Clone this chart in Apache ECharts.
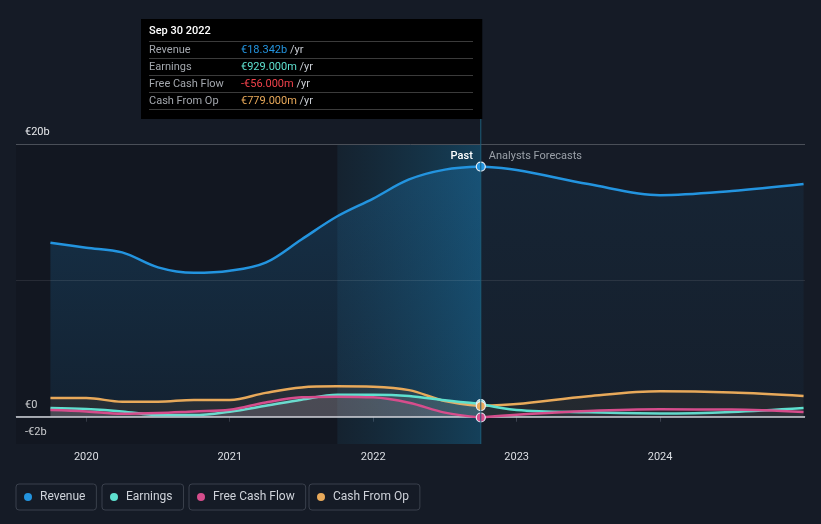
<!DOCTYPE html>
<html>
<head>
<meta charset="utf-8">
<script src="https://cdn.jsdelivr.net/npm/echarts@6/dist/echarts.min.js"></script>
<style>
html,body{margin:0;padding:0;background:#151b26;}
#c{width:821px;height:524px;}
</style>
</head>
<body>
<div id="c"></div>
<script>
// ---- data (values in € billions) ----
const pastYears = [2019.75, 2020, 2020.25, 2020.5, 2020.75, 2021, 2021.25, 2021.5, 2021.75, 2022, 2022.25, 2022.5, 2022.75];
const revenuePast = [12.75, 12.4, 12.05, 10.95, 10.55, 10.7, 11.3, 13.0, 14.7, 16.0, 17.4, 18.12, 18.342];
const earningsPast = [0.64, 0.56, 0.39, 0.12, 0.12, 0.37, 0.8, 1.25, 1.62, 1.62, 1.52, 1.2, 0.929];
const fcfPast = [0.49, 0.39, 0.22, 0.27, 0.39, 0.51, 1.05, 1.42, 1.47, 1.42, 1.02, 0.3, -0.056];
const cfoPast = [1.37, 1.37, 1.1, 1.1, 1.23, 1.23, 1.75, 2.15, 2.23, 2.2, 1.95, 1.15, 0.779];

const fcstYears = [2022.75, 2023, 2023.5, 2024, 2024.5, 2025];
const revenueFcst = [18.342, 18.09, 17.06, 16.25, 16.55, 17.06];
const earningsFcst = [0.929, 0.49, 0.32, 0.24, 0.35, 0.64];
const fcfFcst = [-0.056, 0.15, 0.42, 0.54, 0.53, 0.35];
const cfoFcst = [0.779, 0.93, 1.5, 1.86, 1.77, 1.52];

const xTicks = [2020, 2021, 2022, 2023, 2024];
const yTicks = [-2, 0, 20];
const tipDate = 'Sep 30 2022';
const highlightStart = 2021.75;

const C = {rev:'#2394df', earn:'#5ee0cf', fcf:'#d64d8c', cfo:'#e8a95a'};
const F = 'Roboto, "Noto Sans", sans-serif';

function zipXY(xs, ys){ return xs.map((x,i)=>[x, ys[i]]); }
function fmtMoney(v){
  const s = v < 0 ? '-' : '';
  const a = Math.abs(v);
  if (a >= 1) return s + '€' + a.toFixed(3) + 'b';
  return s + '€' + (a*1000).toFixed(3) + 'm';
}
function withMarker(xs, ys, color){
  const d = zipXY(xs, ys);
  const last = d.length - 1;
  d[last] = {value: d[last], symbol:'circle', symbolSize:9,
    itemStyle:{color: color, borderColor:'#e8eef5', borderWidth:1.2}};
  return d;
}
function vgrad(c1, c2){
  return new echarts.graphic.LinearGradient(0,0,0,1,[{offset:0,color:c1},{offset:1,color:c2}]);
}

const chart = echarts.init(document.getElementById('c'), null, {renderer:'canvas'});

function lineSeries(name, data, color, area, z){
  return {
    name: name, type:'line', data: data, smooth:0.35,
    symbol:'none', showSymbol:true, z: z,
    lineStyle:{color: color, width:2.5},
    itemStyle:{color: color},
    areaStyle: area,
    emphasis:{disabled:true}, silent:true, animation:false
  };
}

const series = [
  {
    type:'line', data:[[2019.6, 0]], symbol:'none', lineStyle:{opacity:0}, z:1, silent:true, animation:false,
    markArea:{silent:true, data:[
      [{xAxis: 2019.51, itemStyle:{color:'rgba(0,0,0,0.13)'}}, {xAxis: highlightStart}],
      [{xAxis: highlightStart, itemStyle:{color: new echarts.graphic.LinearGradient(0,0,1,0,[
        {offset:0,color:'rgba(20,120,160,0.08)'},{offset:1,color:'rgba(20,150,210,0.30)'}])}}, {xAxis: 2022.75}]
    ]},
    markLine:{silent:true, symbol:'none', label:{show:false}, animation:false, data:[
      {yAxis:20, lineStyle:{color:'#4a4f58', width:1, type:'solid'}},
      {yAxis:10, lineStyle:{color:'rgba(255,255,255,0.09)', width:1, type:'solid'}},
      {yAxis:0, lineStyle:{color:'#cfd3d8', width:1.5, type:'solid'}}
    ]}
  },
  lineSeries('Revenue', zipXY(pastYears, revenuePast), C.rev, {color: vgrad('rgba(35,148,223,0.30)','rgba(35,148,223,0.12)')}, 3),
  lineSeries('Revenue', zipXY(fcstYears, revenueFcst), C.rev, {color: vgrad('rgba(35,148,223,0.11)','rgba(35,148,223,0.05)')}, 3),
  lineSeries('Cash From Op', zipXY(pastYears, cfoPast), C.cfo, {color:'rgba(232,169,90,0.13)'}, 4),
  lineSeries('Cash From Op', zipXY(fcstYears, cfoFcst), C.cfo, {color:'rgba(232,169,90,0.10)'}, 4),
  lineSeries('Earnings', zipXY(pastYears, earningsPast), C.earn, {color:'rgba(200,220,220,0.16)'}, 5),
  lineSeries('Earnings', zipXY(fcstYears, earningsFcst), C.earn, {color:'rgba(94,224,207,0.06)'}, 5),
  lineSeries('Free Cash Flow', zipXY(pastYears, fcfPast), C.fcf, {color:'rgba(230,170,200,0.14)'}, 6),
  lineSeries('Free Cash Flow', zipXY(fcstYears, fcfFcst), C.fcf, {color:'rgba(214,77,140,0.06)'}, 6),
  // markers at last reported point
  lineSeries('Revenue', withMarker([pastYears[12]], [revenuePast[12]], C.rev), C.rev, null, 10),
  lineSeries('Earnings', withMarker([pastYears[12]], [earningsPast[12]], C.earn), C.earn, null, 10),
  lineSeries('Cash From Op', withMarker([pastYears[12]], [cfoPast[12]], C.cfo), C.cfo, null, 11),
  lineSeries('Free Cash Flow', withMarker([pastYears[12]], [fcfPast[12]], C.fcf), C.fcf, null, 11)
];

function legendBox(name, left){
  return {
    data:[name], left: left, top: 484, orient:'horizontal', selectedMode:false,
    padding:[6, 11, 6, 8], borderColor:'#3a404c', borderWidth:1, borderRadius:3,
    icon:'circle', itemWidth:14, itemHeight:8, itemGap:0,
    textStyle:{color:'#cfd3da', fontSize:12, fontFamily:F, lineHeight:14}
  };
}

const option = {
  backgroundColor:'#151b26',
  animation:false,
  textStyle:{fontFamily:F},
  grid:{left:16, right:16, top:144, bottom:80, containLabel:false},
  xAxis:{
    type:'value', min:2019.51, max:2025.01,
    axisLine:{show:true, lineStyle:{color:'#3c4250', width:1}},
    axisTick:{show:true, customValues:xTicks, length:5, lineStyle:{color:'#3c4250'}},
    axisLabel:{customValues:xTicks, color:'#dcdfe4', fontSize:11, fontFamily:F, margin:8,
      formatter: v => String(Math.round(v))},
    splitLine:{show:false}
  },
  yAxis:{
    type:'value', min:-2, max:20,
    axisLine:{show:false}, axisTick:{show:false}, splitLine:{show:false},
    axisLabel:{customValues:yTicks, inside:true, margin:9, color:'#e6e8eb', fontSize:11, fontFamily:F,
      verticalAlign:'bottom', padding:[0,0,6,0],
      formatter: v => v === 0 ? '€0' : (v < 0 ? '-€' + (-v) + 'b' : '€' + v + 'b')}
  },
  legend:[
    legendBox('Revenue', 16),
    legendBox('Earnings', 102),
    legendBox('Free Cash Flow', 189),
    legendBox('Cash From Op', 309)
  ],
  series: series
};
chart.setOption(option);

// overlay: vertical divider, Past/Forecast labels, fixed tooltip box
const px = chart.convertToPixel({xAxisIndex:0}, pastYears[12]);
const rows = [
  ['Revenue', fmtMoney(revenuePast[12]), C.rev],
  ['Earnings', fmtMoney(earningsPast[12]), C.earn],
  ['Free Cash Flow', fmtMoney(fcfPast[12]), '#f0424b'],
  ['Cash From Op', fmtMoney(cfoPast[12]), C.cfo]
];
const boxL = 141, boxT = 19, boxR = px + 1.5, boxB = 119;
const g = [
  {type:'line', z:50, silent:true, shape:{x1:px, y1:boxB, x2:px, y2:444}, style:{stroke:'#1d5e7a', lineWidth:1}},
  {type:'text', z:50, silent:true, x:px-8, y:156, style:{text:'Past', fill:'#ffffff', font:'500 11px ' + F, align:'right', verticalAlign:'middle'}},
  {type:'text', z:50, silent:true, x:px+8, y:156, style:{text:'Analysts Forecasts', fill:'#9aa0a8', font:'11px ' + F, align:'left', verticalAlign:'middle'}},
  {type:'rect', z:60, silent:true, shape:{x:boxL, y:boxT, width:boxR-boxL, height:boxB-boxT}, style:{fill:'#000000'}},
  {type:'text', z:61, silent:true, x:149, y:31.5, style:{text:tipDate, fill:'#ffffff', font:'500 11px ' + F, verticalAlign:'middle'}}
];
const sepY = [41.5, 58.5, 75.5, 92.5, 109.5];
sepY.forEach(y => g.push({type:'line', z:61, silent:true, shape:{x1:149, y1:y, x2:473, y2:y}, style:{stroke:'#3b3b3b', lineWidth:1}}));
rows.forEach((r, i) => {
  const cy = (sepY[i] + sepY[i+1]) / 2;
  g.push({type:'text', z:61, silent:true, x:149, y:cy, style:{text:r[0], fill:'#a3a7ad', font:'11px ' + F, verticalAlign:'middle'}});
  g.push({type:'text', z:61, silent:true, x:241, y:cy, style:{
    text:'{v|' + r[1] + '} {u|/yr}', verticalAlign:'middle', font:'11px ' + F,
    rich:{v:{fill:r[2], font:'11px ' + F}, u:{fill:'#c8ccd2', font:'11px ' + F}}
  }});
});
chart.setOption({graphic:{elements:g}});
</script>
</body>
</html>
